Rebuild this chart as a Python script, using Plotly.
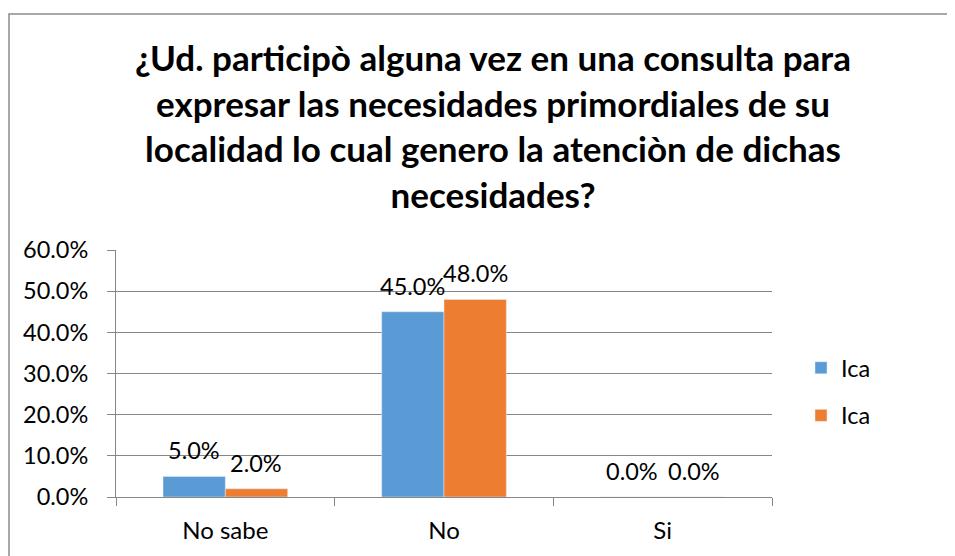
import plotly.graph_objects as go

categories = ["No sabe", "No", "Si"]
series1_name = "Ica"
series1_values = [0.05, 0.45, 0.0]
series2_name = "Ica"
series2_values = [0.02, 0.48, 0.0]
y_ticks = [0, 0.1, 0.2, 0.3, 0.4, 0.5, 0.6]
y_tick_labels = ["0.0%", "10.0%", "20.0%", "30.0%", "40.0%", "50.0%", "60.0%"]
title_text = ("¿Ud. participò alguna vez en una consulta para<br>"
              "expresar las necesidades primordiales de su<br>"
              "localidad lo cual genero la atenciòn de dichas<br>"
              "necesidades?")

FONT = "Lato"
FS = 23.5
BARGAP = 0.43

# page body has an 8px margin; work in figure coordinates = screen - 8
OFF = 8
W, H = 955, 556
L, T = 116 - OFF, 250 - OFF
R = W - (772 - OFF)
B = H - (497 - OFF)
pw, ph = W - L - R, H - T - B

def sx(px):  # screen px -> paper x
    return (px - OFF - L) / pw

def sy(py):  # screen px -> paper y
    return (H - B - (py - OFF)) / ph

fig = go.Figure()
series = [(series1_name, series1_values, "#5B9BD5", "a"),
          (series2_name, series2_values, "#ED7D31", "b")]
for name, vals, color, grp in series:
    fig.add_trace(go.Bar(x=categories, y=vals, name=name, marker_color=color,
                         legendgroup=grp))

# data labels above each bar
bw = (1 - BARGAP) / len(series)
for i, (name, vals, color, grp) in enumerate(series):
    for j, v in enumerate(vals):
        fig.add_annotation(x=j + (i - (len(series) - 1) / 2) * bw, y=v,
                           xref="x", yref="y", text=f"{v:.1%}",
                           showarrow=False, yanchor="bottom", yshift=10,
                           font=dict(size=FS, family=FONT, color="#000000"))

fig.update_layout(
    width=W, height=H,
    margin=dict(l=L, r=R, t=T, b=B, autoexpand=False),
    paper_bgcolor="white", plot_bgcolor="white",
    barmode="group", bargap=BARGAP, bargroupgap=0,
    font=dict(family=FONT, size=FS, color="#000000"),
    title=dict(text=title_text, x=(493 - OFF) / W, xanchor="center",
               y=1 - 63 / H, yanchor="top", yref="container",
               font=dict(family=FONT, size=35, color="#000000", weight="bold")),
    legend=dict(x=sx(801), y=sy(392), xanchor="left",
                yanchor="middle", font=dict(size=FS, family=FONT),
                tracegroupgap=14, bgcolor="rgba(0,0,0,0)"),
    showlegend=True,
)
fig.update_yaxes(range=[0, 0.6], tickvals=y_ticks, ticktext=y_tick_labels,
                 showgrid=True, gridcolor="#868686", gridwidth=1,
                 showline=True, linecolor="#868686", linewidth=1,
                 ticks="outside", ticklen=8, tickcolor="#868686",
                 ticklabelstandoff=14, automargin=False,
                 zeroline=False, tickfont=dict(size=FS, family=FONT))
fig.update_xaxes(showline=True, linecolor="#868686", linewidth=1,
                 ticks="outside", tickson="boundaries", ticklen=8,
                 tickcolor="#868686", ticklabelstandoff=12, automargin=False,
                 tickfont=dict(size=24, family=FONT))

fig.add_shape(type="rect", xref="paper", yref="paper",
              x0=sx(OFF + 1), x1=sx(1000), y0=sy(600), y1=sy(14),
              line=dict(color="#8C8C8C", width=1.5), fillcolor="rgba(0,0,0,0)",
              layer="below")

fig.write_html("out.html")
